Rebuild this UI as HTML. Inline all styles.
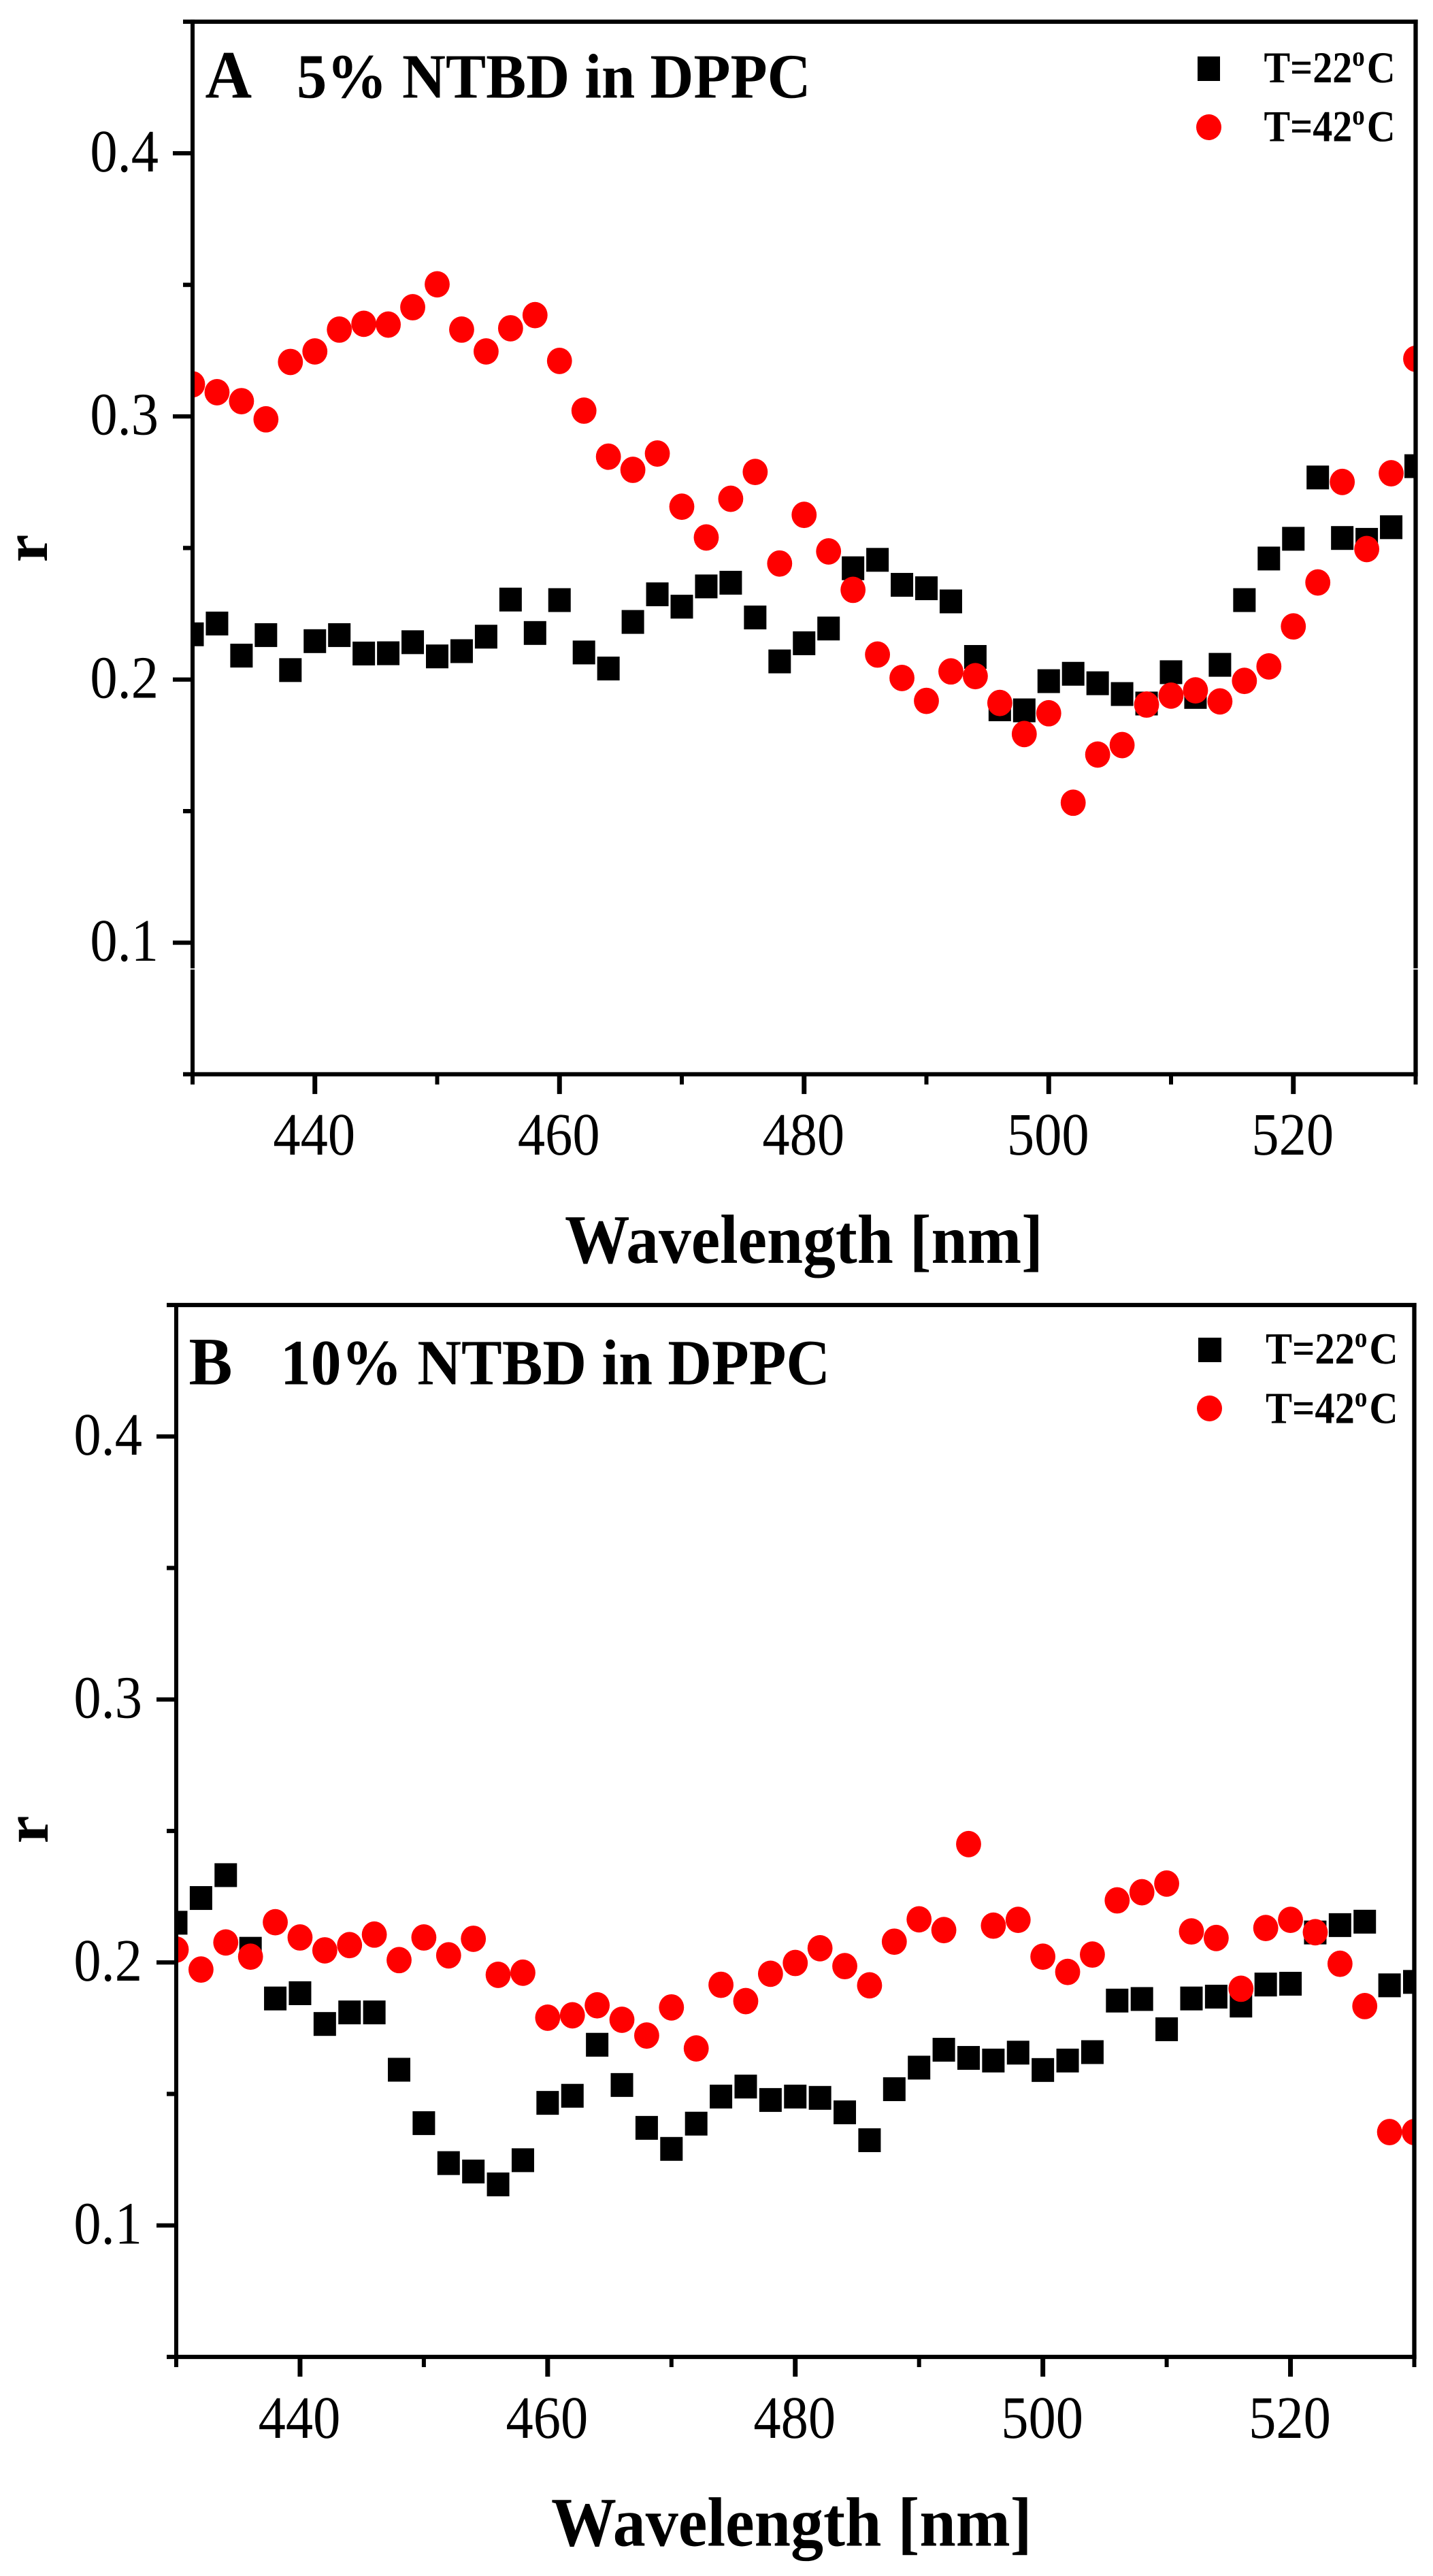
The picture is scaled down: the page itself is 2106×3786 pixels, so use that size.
<!DOCTYPE html>
<html lang="en">
<head>
<meta charset="utf-8">
<title>Fluorescence anisotropy of NTBD in DPPC</title>
<style>
html,body{margin:0;padding:0;background:#fff;}
svg{display:block;}
text{font-family:"Liberation Serif",serif;fill:#000;text-rendering:geometricPrecision;}
.bold{font-weight:bold;}
</style>
</head>
<body>
<svg id="figure" xmlns="http://www.w3.org/2000/svg" width="2106" height="3786" viewBox="0 0 2106 3786">
  <rect width="2106" height="3786" fill="#fff"/>
  <defs>
    <clipPath id="clip-a"><rect x="283" y="32" width="1797.5" height="1547"/></clipPath>
    <clipPath id="clip-b"><rect x="259" y="1918" width="1819.5" height="1546"/></clipPath>
  </defs>
  <g id="panel-a">
    <g id="marks-a" clip-path="url(#clip-a)"></g>
    <g id="axes-a"></g>
    <text class="bold" font-size="95" transform="translate(301.5,143.5) scale(1,1.05)">A</text>
    <text class="bold" font-size="88.6" transform="translate(436,143.5) scale(1,1.05)">5% NTBD in DPPC</text>
    <rect x="1760" y="83" width="33" height="36" fill="#000"/>
    <ellipse cx="1776.5" cy="187" rx="18.5" ry="19" fill="#f00"/>
    <text class="bold" font-size="58" transform="translate(1857.5,121) scale(1,1.12)">T=22<tspan font-size="37" dy="-22">o</tspan><tspan dx="3" dy="22">C</tspan></text>
    <text class="bold" font-size="58" transform="translate(1857.5,207.7) scale(1,1.12)">T=42<tspan font-size="37" dy="-22">o</tspan><tspan dx="3" dy="22">C</tspan></text>
    <text class="bold" font-size="95.5" transform="translate(830,1856) scale(1,1.07)">Wavelength [nm]</text>
    <text class="bold" font-size="92" text-anchor="middle" transform="translate(69,806) rotate(-90)">r</text>
  </g>
  <g id="panel-b">
    <g id="marks-b" clip-path="url(#clip-b)"></g>
    <g id="axes-b"></g>
    <text class="bold" font-size="96" transform="translate(277.5,2034.5) scale(1,1.04)">B</text>
    <text class="bold" font-size="89.5" transform="translate(412,2034.5) scale(1,1.06)">10% NTBD in DPPC</text>
    <rect x="1761" y="1966" width="34" height="36" fill="#000"/>
    <ellipse cx="1777.5" cy="2070" rx="18.5" ry="19" fill="#f00"/>
    <text class="bold" font-size="58.5" transform="translate(1860,2004) scale(1,1.12)">T=22<tspan font-size="37" dy="-22">o</tspan><tspan dx="3" dy="22">C</tspan></text>
    <text class="bold" font-size="58.5" transform="translate(1860,2091.5) scale(1,1.12)">T=42<tspan font-size="37" dy="-22">o</tspan><tspan dx="3" dy="22">C</tspan></text>
    <text class="bold" font-size="96" transform="translate(810,3741.7) scale(1,1.07)">Wavelength [nm]</text>
    <text class="bold" font-size="92" text-anchor="middle" transform="translate(70,2689) rotate(-90)">r</text>
  </g>
</svg>
<script>
const wavelengths = [430,432,434,436,438,440,442,444,446,448,450,452,454,456,458,460,462,464,466,468,470,472,474,476,478,480,482,484,486,488,490,492,494,496,498,500,502,504,506,508,510,512,514,516,518,520,522,524,526,528,530];
const panelA22 = [0.2172,0.2213,0.2091,0.2169,0.2036,0.2146,0.2169,0.2099,0.2100,0.2142,0.2088,0.2108,0.2163,0.2304,0.2177,0.2302,0.2103,0.2042,0.2219,0.2324,0.2277,0.2354,0.2368,0.2236,0.2069,0.2138,0.2194,0.2423,0.2455,0.2360,0.2347,0.2297,0.2086,0.1887,0.1883,0.1994,0.2022,0.1986,0.1945,0.1909,0.2028,0.1934,0.2056,0.2302,0.2460,0.2535,0.2768,0.2538,0.2531,0.2579,0.2811];
const panelA42 = [0.3122,0.3092,0.3058,0.2989,0.3207,0.3247,0.3330,0.3352,0.3349,0.3415,0.3502,0.3330,0.3247,0.3335,0.3385,0.3211,0.3022,0.2847,0.2797,0.2859,0.2657,0.2540,0.2687,0.2789,0.2441,0.2626,0.2487,0.2341,0.2095,0.2006,0.1919,0.2031,0.2013,0.1911,0.1793,0.1872,0.1532,0.1715,0.1751,0.1905,0.1939,0.1959,0.1917,0.1995,0.2050,0.2202,0.2369,0.2751,0.2496,0.2784,0.3219];
const panelB22 = [0.2151,0.2245,0.2332,0.2052,0.1863,0.1883,0.1766,0.1810,0.1810,0.1592,0.1389,0.1237,0.1205,0.1156,0.1248,0.1466,0.1493,0.1687,0.1534,0.1371,0.1291,0.1387,0.1490,0.1528,0.1477,0.1490,0.1485,0.1430,0.1324,0.1518,0.1600,0.1668,0.1637,0.1627,0.1657,0.1591,0.1627,0.1659,0.1855,0.1861,0.1746,0.1863,0.1870,0.1836,0.1916,0.1919,0.2114,0.2142,0.2155,0.1913,0.1926];
const panelB42 = [0.2049,0.1973,0.2076,0.2022,0.2153,0.2095,0.2046,0.2066,0.2106,0.2009,0.2095,0.2027,0.2090,0.1953,0.1961,0.1790,0.1799,0.1837,0.1782,0.1722,0.1829,0.1673,0.1915,0.1853,0.1957,0.1998,0.2054,0.1986,0.1913,0.2079,0.2164,0.2123,0.2450,0.2140,0.2162,0.2022,0.1964,0.2030,0.2236,0.2267,0.2300,0.2118,0.2093,0.1900,0.2131,0.2162,0.2115,0.1995,0.1834,0.1355,0.1355];
const xTickValues = [430,440,450,460,470,480,490,500,510,520,530];
const xTickLabels = ["","440","","460","","480","","500","","520",""];
const yTickValues = [0.05,0.1,0.15,0.2,0.25,0.3,0.35,0.4,0.45];
const yTickLabels = ["","0.1","","0.2","","0.3","","0.4",""];
const xDomain = [430,530];
const yDomain = [0.05,0.45];

const SVG_NS = "http://www.w3.org/2000/svg";

function linear(d0,d1,r0,r1){
  return function(v){ return r0 + (v-d0)/(d1-d0)*(r1-r0); };
}

function line(parent,x1,y1,x2,y2,w,name){
  const el = document.createElementNS(SVG_NS,"line");
  el.setAttribute("x1",x1);
  el.setAttribute("y1",y1);
  el.setAttribute("x2",x2);
  el.setAttribute("y2",y2);
  el.setAttribute("stroke","#000");
  el.setAttribute("stroke-width",w);
  
  
  parent.appendChild(el);
}

function label(parent,str,x,y,size,anchor,name){
  const el = document.createElementNS(SVG_NS,"text");
  el.setAttribute("font-size",size);
  el.setAttribute("text-anchor",anchor);
  el.setAttribute("transform","translate("+x+","+y+") scale(1,1.1)");
  el.textContent = str;
  
  
  parent.appendChild(el);
}

function drawPanel(id,box,series22,series42){
  const xAxis = linear(xDomain[0],xDomain[1],box.left,box.right);
  const yAxis = linear(yDomain[0],yDomain[1],box.bottom,box.top);
  const marks = document.getElementById("marks-"+id);
  const axes = document.getElementById("axes-"+id);

  wavelengths.forEach(function(w,i){
    const rect = document.createElementNS(SVG_NS,"rect");
    rect.setAttribute("x",xAxis(w)-16.5);
    rect.setAttribute("y",yAxis(series22[i])-17.5);
    rect.setAttribute("width",33);
    rect.setAttribute("height",35);
    rect.setAttribute("fill","#000");
    
    
    marks.appendChild(rect);
  });
  wavelengths.forEach(function(w,i){
    const dot = document.createElementNS(SVG_NS,"ellipse");
    dot.setAttribute("cx",xAxis(w));
    dot.setAttribute("cy",yAxis(series42[i]));
    dot.setAttribute("rx",18.4);
    dot.setAttribute("ry",19.4);
    dot.setAttribute("fill","#f00");
    
    
    marks.appendChild(dot);
  });

  line(axes,box.left,box.top-3,box.left,box.bottom+3,6,"y-axis-line");
  line(axes,box.right,box.top-3,box.right,box.bottom+3,6.3,"right-frame-line");
  line(axes,box.left-14,box.top,box.right+3.1,box.top,6.2,"top-frame-line");
  line(axes,box.left-14,box.bottom,box.right+3.1,box.bottom,6.2,"x-axis-line");

  xTickValues.forEach(function(v,i){
    const major = xTickLabels[i] !== "";
    line(axes,xAxis(v),box.bottom,xAxis(v),box.bottom+(major?29:15),major?7:6,"x-tick");
    if(major){
      label(axes,xTickLabels[i],xAxis(v)-1,box.labelX,80.5,"middle","x-tick-label");
    }
  });
  yTickValues.forEach(function(v,i){
    const major = yTickLabels[i] !== "";
    if(major || (v>yDomain[0] && v<yDomain[1])){
      line(axes,box.left-(major?29:14),yAxis(v),box.left,yAxis(v),6.3,"y-tick");
    }
    if(major){
      label(axes,yTickLabels[i],box.left-50,yAxis(v)+26.5,80.5,"end","y-tick-label");
    }
  });
}

drawPanel("a",{left:283,right:2080.5,top:31.9,bottom:1578.9,labelX:1697},panelA22,panelA42);
drawPanel("b",{left:259,right:2078.5,top:1918,bottom:3464,labelX:3583},panelB22,panelB42);

const axesA = document.getElementById("axes-a");
[283,2080.5].forEach(function(x){
  const gap = document.createElementNS(SVG_NS,"rect");
  gap.setAttribute("x",x-3.5);
  gap.setAttribute("y",1423.3);
  gap.setAttribute("width",7);
  gap.setAttribute("height",1.7);
  gap.setAttribute("fill","#fff");
  
  
  axesA.appendChild(gap);
});
</script>
</body>
</html>
